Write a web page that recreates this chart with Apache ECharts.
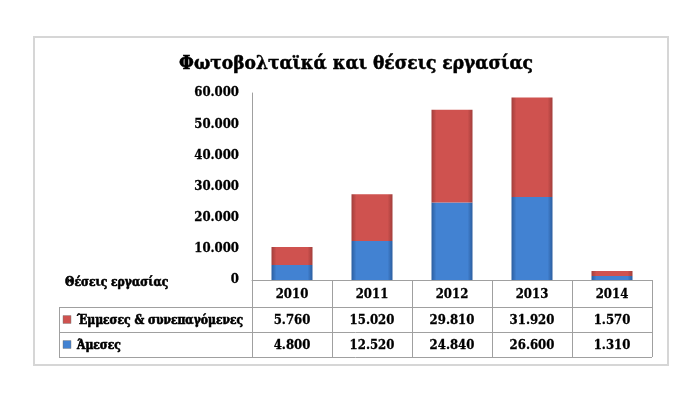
<!DOCTYPE html>
<html><head><meta charset="utf-8">
<script src="https://cdn.jsdelivr.net/npm/echarts@6/dist/echarts.min.js"></script>
<style>html,body{margin:0;padding:0;background:#fff}#c{width:700px;height:393px}</style>
</head><body><div id="c"></div>
<script>
var titleText = 'Φωτοβολταϊκά και θέσεις εργασίας';
var yAxisName = 'Θέσεις εργασίας';
var years = ['2010', '2011', '2012', '2013', '2014'];
var indirectName = 'Έμμεσες & συνεπαγόμενες';
var indirect = [5760, 15020, 29810, 31920, 1570];
var directName = 'Άμεσες';
var direct = [4800, 12520, 24840, 26600, 1310];
var yTicks = [0, 10000, 20000, 30000, 40000, 50000, 60000];

function fmt(v) {
  var s = String(Math.round(v));
  return s.replace(/\B(?=(\d{3})+(?!\d))/g, '.');
}
var FONT = '"DejaVu Serif Condensed", "DejaVu Serif", serif';
var blueGrad = new echarts.graphic.LinearGradient(0, 0, 1, 0, [
  {offset: 0, color: '#2c5e9f'}, {offset: 0.12, color: '#4282d2'},
  {offset: 0.88, color: '#4282d2'}, {offset: 1, color: '#2c5e9f'}]);
var redGrad = new echarts.graphic.LinearGradient(0, 0, 1, 0, [
  {offset: 0, color: '#a23e3b'}, {offset: 0.12, color: '#cf524f'},
  {offset: 0.88, color: '#cf524f'}, {offset: 1, color: '#a23e3b'}]);

var chart = echarts.init(document.getElementById('c'));
var gridL = 252, gridR = 48, gridT = 93, gridB = 113;
chart.setOption({
  animation: false,
  title: {text: titleText, left: 351, textAlign: 'center', top: 50,
    textStyle: {fontFamily: FONT, fontWeight: 'bold', fontSize: 19, color: '#000',
      textBorderColor: '#000', textBorderWidth: 0.5}},
  grid: {left: gridL, right: gridR, top: gridT, bottom: gridB},
  xAxis: {type: 'category', data: years,
    axisLine: {show: true, lineStyle: {color: '#a0a0a0', width: 1}},
    axisTick: {show: false}, axisLabel: {show: false}},
  yAxis: {type: 'value', min: yTicks[0], max: yTicks[yTicks.length - 1], interval: yTicks[1] - yTicks[0],
    axisLine: {show: true, lineStyle: {color: '#a0a0a0', width: 1}},
    axisTick: {show: false}, splitLine: {show: false},
    axisLabel: {margin: 13, formatter: function (v) { return fmt(v); },
      fontFamily: FONT, fontWeight: 'bold', fontSize: 13, color: '#000',
      textBorderColor: '#000', textBorderWidth: 0.3}},
  series: [
    {name: directName, type: 'bar', stack: 's', data: direct, barWidth: 41,
      itemStyle: {color: blueGrad}},
    {name: indirectName, type: 'bar', stack: 's', data: indirect, barWidth: 41,
      itemStyle: {color: redGrad}}
  ]
});

var rect = chart.getModel().getComponent('grid').coordinateSystem.getRect();
var base = rect.y + rect.height;
var colW = rect.width / years.length;
var x0 = rect.x, x1 = rect.x + rect.width;
var tblL = 59;
var hdrB = base + 27, r1B = hdrB + 25, r2B = r1B + 25;
var lc = '#a0a0a0';
var g = [];
function line(xa, ya, xb, yb) {
  g.push({type: 'line', silent: true, shape: {x1: xa, y1: ya, x2: xb, y2: yb},
    style: {stroke: lc, lineWidth: 1}});
}
function txt(t, x, y, align, size, sw) {
  g.push({type: 'text', silent: true, x: x, y: y,
    style: {text: t, fill: '#000', font: 'bold ' + (size || 13) + 'px ' + FONT,
      stroke: '#000', lineWidth: sw || 0.3,
      align: align || 'center', verticalAlign: 'middle'}});
}
g.push({type: 'rect', silent: true, shape: {x: 34, y: 37, width: 634, height: 328},
  style: {fill: 'none', stroke: '#d6d6d6', lineWidth: 2}});
line(x0, hdrB + 0.5, x1, hdrB + 0.5);
line(tblL, hdrB + 0.5, x0, hdrB + 0.5);
line(tblL, r1B + 0.5, x1, r1B + 0.5);
line(tblL, r2B + 0.5, x1, r2B + 0.5);
line(tblL + 0.5, hdrB, tblL + 0.5, r2B);
for (var i = 0; i <= years.length; i++) {
  var xx = Math.round(x0 + i * colW) + 0.5;
  line(xx, base, xx, r2B);
}
for (var j = 0; j < years.length; j++) {
  var cx = chart.convertToPixel({xAxisIndex: 0}, j);
  txt(years[j], cx, (base + hdrB) / 2 + 1);
  txt(fmt(indirect[j]), cx, (hdrB + r1B) / 2 + 1);
  txt(fmt(direct[j]), cx, (r1B + r2B) / 2 + 1);
}
txt(yAxisName, 65, base + 3, 'left', 12, 0.6);
function key(grad, y) {
  g.push({type: 'rect', silent: true, shape: {x: 63, y: y - 4, width: 8, height: 8},
    style: {fill: grad, stroke: '#888', lineWidth: 0.5}});
}
key(redGrad, (hdrB + r1B) / 2);
txt(indirectName, 77, (hdrB + r1B) / 2 + 1, 'left', 12, 0.6);
key(blueGrad, (r1B + r2B) / 2);
txt(directName, 77, (r1B + r2B) / 2 + 1, 'left', 12, 0.6);
chart.setOption({graphic: g});
</script></body></html>
